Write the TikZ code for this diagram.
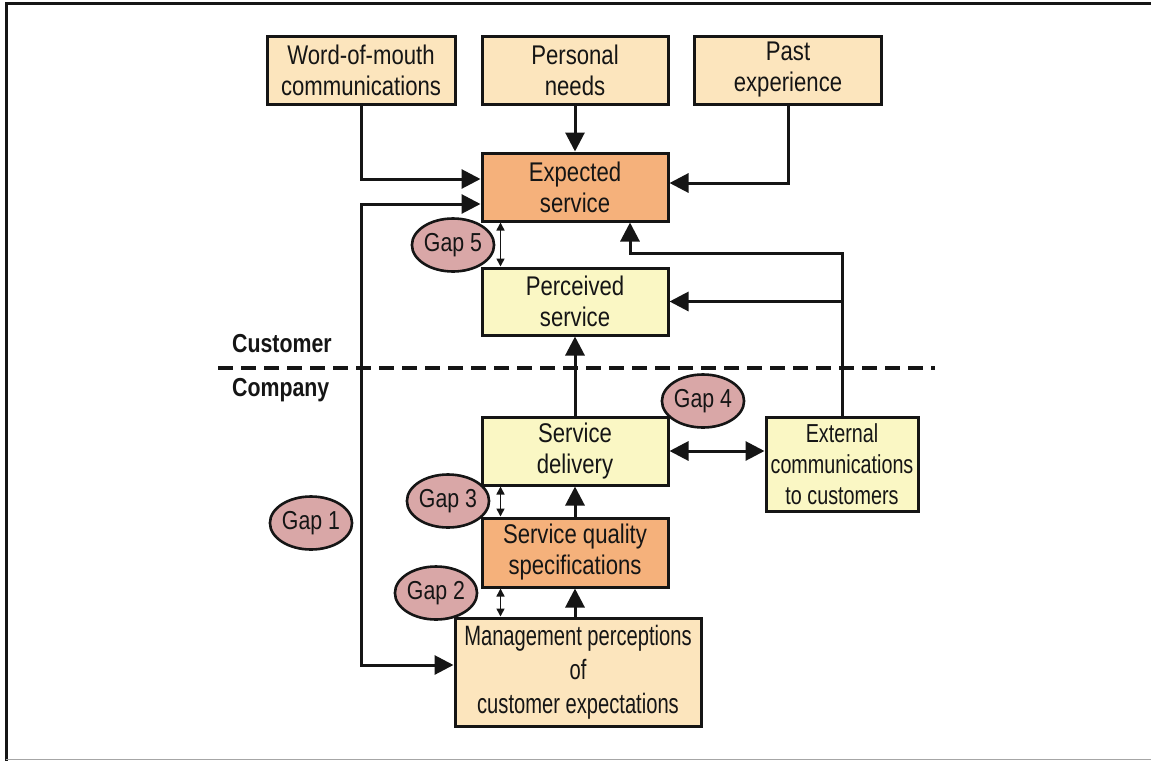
\documentclass[tikz,border=0pt]{standalone}
\usepackage{fontspec}
\setmainfont{Liberation Sans}[FakeStretch=0.82]
\newfontfamily\narrowfont{Liberation Sans}[FakeStretch=0.72]
\newfontfamily\extfont{Liberation Sans}[FakeStretch=0.76]
\usetikzlibrary{arrows.meta,shapes.geometric,calc}
\definecolor{tan}{HTML}{FCE5BD}
\definecolor{orng}{HTML}{F5B17B}
\definecolor{ylw}{HTML}{FAF7C4}
\definecolor{pnk}{HTML}{D9A7A7}
\definecolor{ink}{HTML}{151515}
\tikzset{
  box/.style={draw=ink,line width=3pt,align=center,inner sep=2pt,text=ink,
    font=\fontsize{27}{31}\selectfont},
  gap/.style={ellipse,draw=ink,line width=2.6pt,fill=pnk,inner sep=0pt,
    minimum width=73pt,minimum height=53pt,text=ink,font=\fontsize{26}{28}\selectfont},
  arr/.style={draw=ink,line width=3pt,-{Triangle[length=19pt,width=19pt]}},
  darr/.style={draw=ink,line width=3pt,{Triangle[length=19pt,width=19pt]}-{Triangle[length=19pt,width=19pt]}},
  tarr/.style={draw=ink,line width=1.6pt,{Triangle[length=8pt,width=8pt]}-{Triangle[length=8pt,width=8pt]}},
  lbl/.style={text=ink,font=\bfseries\fontsize{26}{30}\selectfont,inner sep=0pt}
}
\begin{document}
\begin{tikzpicture}[x=1pt,y=-1pt]
\useasboundingbox (0,0) rectangle (1151,761);
% frame
\draw[line width=3pt,ink] (1151,3) -- (6,3) -- (6,761);
\draw[line width=1.5pt,black!35] (6,759.5) -- (1151,759.5);

% customer side
\node[box,fill=tan,minimum width=188pt,minimum height=68pt] (wom) at (361,70) {Word-of-mouth\\communications};
\node[box,fill=tan,minimum width=186pt,minimum height=68pt] (pn) at (575,70) {Personal\\needs};
\node[box,fill=tan,minimum width=187pt,minimum height=68pt] (past) at (788,70) {Past\\experience};
\node[box,fill=orng,minimum width=186pt,minimum height=68pt] (exp) at (575,187) {Expected\\service};
\node[box,fill=ylw,minimum width=186pt,minimum height=67pt] (per) at (575,301.5) {Perceived\\service};

% company side
\node[box,fill=ylw,minimum width=186pt,minimum height=68pt] (del) at (575,451) {Service\\delivery};
\node[box,fill=ylw,minimum width=152pt,minimum height=94pt,font=\extfont\fontsize{26}{31}\selectfont] (ext) at (842,464) {External\\communications\\to customers};
\node[box,fill=orng,minimum width=186pt,minimum height=69pt] (spec) at (575,552.5) {Service quality\\specifications};
\node[box,fill=tan,minimum width=246pt,minimum height=108pt,inner sep=0pt,font=\narrowfont\fontsize{28}{34}\selectfont] (mgmt) at (578,672) {Management perceptions\\of\\customer expectations};

% divider
\draw[ink,line width=4pt,dash pattern=on 15pt off 8pt] (218,368) -- (935,368);
\node[lbl,anchor=west] (cust) at (232,344) {Customer};
\node[lbl,anchor=west] (comp) at (232,390) {Company};

% gaps
\node[gap] (g5) at (453,245) {Gap 5};
\node[gap] (g4) at (703,401) {Gap 4};
\node[gap] (g3) at (448,501) {Gap 3};
\node[gap] (g2) at (436,593) {Gap 2};
\node[gap] (g1) at (311,523) {Gap 1};

% connectors
\draw[arr] (wom.south) |- ([yshift=8pt]exp.west);
\draw[arr] (pn) -- (exp);
\draw[arr] (past.south) |- ([yshift=4pt]exp.east);
\coordinate (g1c) at (361,665);
\draw[darr] ([yshift=-17pt]exp.west) -| (g1c) -- (g1c -| mgmt.west);
\draw[tarr] ([xshift=20pt]exp.south west) -- ([xshift=20pt]per.north west);
\coordinate (eb) at (630,253);
\draw[arr] (ext.north) |- (eb) -- (eb |- exp.south);
\draw[arr] (ext.north |- per.east) -- (per.east);
\draw[arr] (del) -- (per);
\draw[darr] (del.east) -- (del.east -| ext.west);
\draw[tarr] ([xshift=20pt]del.south west) -- ([xshift=20pt]spec.north west);
\draw[arr] (spec) -- (del);
\draw[tarr] ([xshift=20pt]spec.south west) -- ([xshift=20pt]spec.south west |- mgmt.north);
\draw[arr] (mgmt.north -| spec.south) -- (spec.south);
\end{tikzpicture}
\end{document}
